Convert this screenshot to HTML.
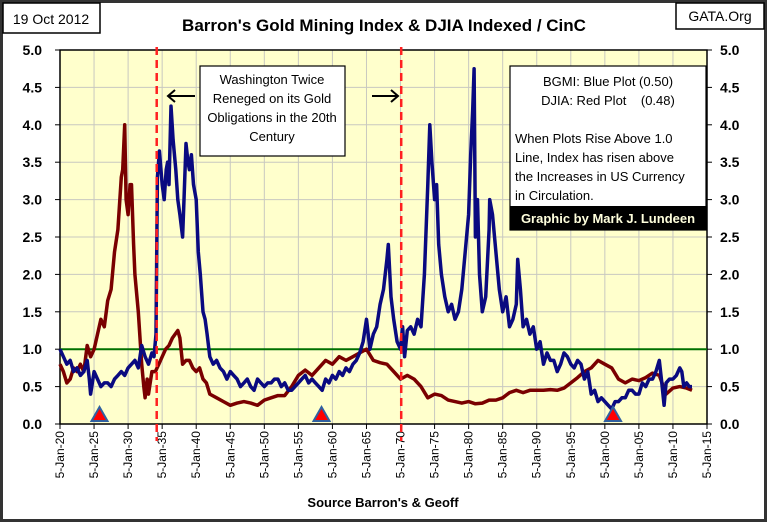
<!DOCTYPE html>
<html><head><meta charset="utf-8"><style>
body{margin:0;background:#fff;}
svg{display:block;font-family:"Liberation Sans",sans-serif;}
</style></head><body>
<svg id="c" width="768" height="523" viewBox="0 0 768 523">
<rect x="1.5" y="1.5" width="764" height="519" fill="#fff" stroke="#333" stroke-width="3"/>
<rect x="60" y="50" width="647" height="374" fill="#FFFFCC"/>
<g id="grid"></g>
<g id="axes"></g>
<g id="series"></g>
<rect x="3" y="3" width="97" height="30" fill="#fff" stroke="#000" stroke-width="1.5"/>
<text x="51" y="24" font-size="14" text-anchor="middle">19 Oct 2012</text>
<rect x="676" y="3" width="88" height="26" fill="#fff" stroke="#000" stroke-width="1.5"/>
<text x="720" y="21" font-size="14" text-anchor="middle">GATA.Org</text>
<text x="384" y="31" font-size="17" font-weight="bold" text-anchor="middle">Barron's Gold Mining Index &amp; DJIA Indexed / CinC</text>
<text x="383" y="507" font-size="13" font-weight="bold" text-anchor="middle">Source Barron's &amp; Geoff</text>
<rect x="200" y="66" width="145" height="90" fill="#fff" stroke="#000" stroke-width="1.2"/>
<g font-size="13" text-anchor="middle">
<text x="272" y="84">Washington Twice</text><text x="272" y="103">Reneged on its Gold</text><text x="272" y="122">Obligations in the 20th</text><text x="272" y="141">Century</text></g>
<g stroke="#000" stroke-width="2" fill="none">
<path d="M195 96 L168 96 M175 90 L168 96 L175 102"/><path d="M372 96 L398 96 M391 90 L398 96 L391 102"/></g>
<rect x="510" y="66" width="196" height="164" fill="#fff" stroke="#000" stroke-width="1.2"/>
<g font-size="13">
<text x="608" y="86" text-anchor="middle">BGMI: Blue Plot (0.50)</text>
<text x="608" y="105" text-anchor="middle">DJIA: Red Plot &#160;&#160;&#160;(0.48)</text>
<text x="515" y="143">When Plots Rise Above 1.0</text><text x="515" y="162">Line, Index has risen above</text><text x="515" y="181">the Increases in US Currency</text><text x="515" y="200">in Circulation.</text></g>
<rect x="510" y="206" width="196" height="24" fill="#000"/>
<text x="608" y="223" font-size="13" font-weight="bold" fill="#FFFFDD" text-anchor="middle">Graphic by Mark J. Lundeen</text>
</svg>
<script>
const blueYears=[1920,1920.5,1921,1921.5,1922,1922.5,1923,1923.5,1924,1924.3,1924.5,1925,1925.5,1926,1926.5,1927,1927.5,1928,1928.5,1929,1929.5,1930,1930.5,1931,1931.5,1932,1932.5,1933,1933.5,1933.8,1934.1,1934.3,1934.6,1935,1935.3,1935.6,1935.8,1936,1936.3,1936.6,1937,1937.3,1937.6,1938,1938.2,1938.5,1938.8,1939,1939.3,1939.6,1940,1940.3,1940.6,1941,1941.3,1941.6,1942,1942.5,1943,1943.5,1944,1944.5,1945,1945.5,1946,1946.5,1947,1947.5,1948,1948.5,1949,1949.5,1950,1950.5,1951,1951.5,1952,1952.5,1953,1953.5,1954,1954.5,1955,1955.5,1956,1956.5,1957,1957.5,1958,1958.5,1959,1959.5,1960,1960.5,1961,1961.5,1962,1962.5,1963,1963.5,1964,1964.5,1965,1965.5,1966,1966.5,1967,1967.5,1968,1968.2,1968.6,1969,1969.5,1970,1970.3,1970.6,1971,1971.5,1972,1972.5,1973,1973.5,1974,1974.3,1974.6,1975,1975.3,1975.6,1976,1976.5,1977,1977.5,1978,1978.5,1979,1979.5,1980,1980.3,1980.6,1980.8,1981,1981.3,1981.6,1982,1982.5,1983,1983.1,1983.5,1984,1984.5,1985,1985.5,1986,1986.5,1987,1987.2,1987.6,1988,1988.5,1989,1989.5,1990,1990.5,1991,1991.5,1992,1992.5,1993,1993.5,1994,1994.5,1995,1995.5,1996,1996.5,1997,1997.5,1998,1998.5,1999,1999.5,2000,2000.5,2001,2001.5,2002,2002.5,2003,2003.5,2004,2004.5,2005,2005.5,2006,2006.5,2007,2007.5,2008,2008.3,2008.7,2009,2009.5,2010,2010.5,2011,2011.3,2011.6,2012,2012.4,2012.8];
const blueValues=[1.0,0.9,0.8,0.85,0.7,0.75,0.65,0.7,0.85,0.6,0.4,0.7,0.6,0.5,0.55,0.55,0.5,0.6,0.65,0.7,0.65,0.75,0.8,0.85,0.75,1.05,0.9,0.8,0.95,0.9,1.2,3.3,3.65,3.2,3.0,3.4,3.5,3.2,4.25,3.8,3.4,3.0,2.8,2.5,3.0,3.75,3.5,3.4,3.6,3.2,3.0,2.3,2.0,1.5,1.4,1.2,0.9,0.8,0.85,0.75,0.7,0.6,0.7,0.65,0.6,0.5,0.55,0.6,0.5,0.45,0.6,0.55,0.5,0.55,0.55,0.6,0.6,0.5,0.55,0.45,0.45,0.5,0.55,0.6,0.65,0.55,0.6,0.55,0.5,0.45,0.6,0.55,0.65,0.6,0.7,0.65,0.75,0.7,0.8,0.85,0.95,1.1,1.4,1.0,1.2,1.3,1.6,1.8,2.2,2.4,1.7,1.4,1.1,1.0,1.3,0.9,1.25,1.3,1.2,1.4,1.3,2.0,3.2,4.0,3.5,3.0,3.2,2.4,2.0,1.7,1.5,1.6,1.4,1.5,1.8,2.3,2.8,3.6,4.2,4.75,2.5,3.0,2.0,1.5,1.7,2.6,3.0,2.8,2.3,1.8,1.5,1.7,1.3,1.4,1.6,2.2,1.8,1.3,1.4,1.2,1.3,1.0,1.1,0.8,0.95,0.85,0.85,0.7,0.8,0.95,0.9,0.8,0.75,0.85,0.8,0.6,0.7,0.4,0.45,0.3,0.35,0.3,0.25,0.2,0.3,0.3,0.35,0.35,0.45,0.45,0.4,0.4,0.55,0.5,0.6,0.6,0.7,0.85,0.6,0.25,0.55,0.6,0.6,0.65,0.75,0.7,0.5,0.55,0.5,0.5];
const redYears=[1920,1920.5,1921,1921.5,1922,1922.5,1923,1923.5,1924,1924.5,1925,1925.5,1926,1926.5,1927,1927.5,1928,1928.5,1929,1929.2,1929.5,1929.7,1930,1930.3,1930.5,1930.8,1931,1931.5,1932,1932.3,1932.5,1932.8,1933,1933.5,1934,1934.5,1935,1935.5,1936,1936.5,1937.3,1937.6,1938,1938.5,1939,1939.5,1940,1940.5,1941,1941.5,1942,1943,1944,1945,1946,1947,1948,1949,1950,1951,1952,1953,1954,1955,1956,1957,1958,1959,1960,1961,1962,1963,1964,1965,1966,1967,1968,1969,1970,1971,1972,1973,1974,1975,1976,1977,1978,1979,1980,1981,1982,1983,1984,1985,1986,1987,1988,1989,1990,1991,1992,1993,1994,1995,1996,1997,1998,1999,2000,2001,2002,2003,2004,2005,2006,2007,2008,2009,2010,2011,2012,2012.8];
const redValues=[0.8,0.7,0.55,0.6,0.75,0.7,0.8,0.7,1.05,0.9,1.0,1.2,1.4,1.3,1.65,1.8,2.3,2.6,3.3,3.4,4.0,3.0,2.8,3.2,3.2,2.4,2.0,1.5,0.8,0.5,0.35,0.6,0.4,0.7,0.7,0.8,0.9,1.0,1.05,1.15,1.25,1.15,0.8,0.85,0.85,0.75,0.7,0.75,0.6,0.55,0.4,0.35,0.3,0.25,0.28,0.3,0.28,0.25,0.32,0.35,0.38,0.38,0.5,0.65,0.72,0.65,0.75,0.85,0.8,0.9,0.85,0.9,0.95,1.0,0.85,0.82,0.8,0.7,0.6,0.65,0.6,0.5,0.35,0.4,0.38,0.32,0.3,0.28,0.3,0.27,0.28,0.32,0.32,0.35,0.42,0.45,0.42,0.45,0.45,0.45,0.46,0.45,0.48,0.55,0.62,0.7,0.75,0.85,0.8,0.75,0.6,0.55,0.6,0.58,0.62,0.68,0.65,0.4,0.48,0.5,0.48,0.45];
const xTickYears=[1920,1925,1930,1935,1940,1945,1950,1955,1960,1965,1970,1975,1980,1985,1990,1995,2000,2005,2010,2015];
const yTicks=[0,0.5,1,1.5,2,2.5,3,3.5,4,4.5,5];
const eventYears=[1934.2,1970.1];
const triangleYears=[1925.8,1958.4,2001.2];
const NS='http://www.w3.org/2000/svg';
const X0=60,X1=707,Y0=424,Y1=50;
const xs=y=>X0+(y-1920)/95*(X1-X0);
const ys=v=>Y0-v/5*(Y0-Y1);
function mk(t,a,p){const e=document.createElementNS(NS,t);for(const k in a)e.setAttribute(k,a[k]);p.appendChild(e);return e;}
const grid=document.getElementById('grid'),axes=document.getElementById('axes'),ser=document.getElementById('series');
xTickYears.forEach(yr=>{
 const l=mk('line',{x1:xs(yr),x2:xs(yr),y1:Y1,y2:Y0,stroke:'#c8c8c0','stroke-width':1},grid);
 
 
 const tk=mk('line',{x1:xs(yr),x2:xs(yr),y1:Y0,y2:Y0+5,stroke:'#000'},axes);
 
 
 const t=mk('text',{x:0,y:0,'font-size':12,'text-anchor':'end',transform:`translate(${xs(yr)+4},${Y0+7}) rotate(-90)`},axes);
 t.textContent='5-Jan-'+String(yr%100).padStart(2,'0');
 
 
});
yTicks.forEach(v=>{
 const l=mk('line',{x1:X0,x2:X1,y1:ys(v),y2:ys(v),stroke:'#c8c8c0','stroke-width':1},grid);
 
 
 const tl=mk('line',{x1:X0-5,x2:X0,y1:ys(v),y2:ys(v),stroke:'#000'},axes);
 
 
 const tr=mk('line',{x1:X1,x2:X1+5,y1:ys(v),y2:ys(v),stroke:'#000'},axes);
 
 
 const a=mk('text',{x:X0-18,y:ys(v)+5,'font-size':14,'font-weight':'bold','text-anchor':'end'},axes);
 a.textContent=v.toFixed(1);
 
 
 const b=mk('text',{x:X1+13,y:ys(v)+5,'font-size':14,'font-weight':'bold'},axes);
 b.textContent=v.toFixed(1);
 
 
});
const fr=mk('rect',{x:X0,y:Y1,width:X1-X0,height:Y0-Y1,fill:'none',stroke:'#000','stroke-width':1.5},axes);


const g1=mk('line',{x1:X0,x2:X1,y1:ys(1),y2:ys(1),stroke:'#007000','stroke-width':2},ser);


function path(xa,va,c,n){
 const d=xa.map((y,i)=>(i?'L':'M')+xs(y).toFixed(1)+' '+ys(va[i]).toFixed(1)).join(' ');
 const p=mk('path',{d:d,fill:'none',stroke:c,'stroke-width':3.5,'stroke-linejoin':'round'},ser);
 
 
}
path(redYears,redValues,'#7a0000','djia-series');
path(blueYears,blueValues,'#0a0a80','bgmi-series');
eventYears.forEach(yr=>{
 const l=mk('line',{x1:xs(yr),x2:xs(yr),y1:Y1-3,y2:Y0+17,stroke:'#ff2020','stroke-width':2.5,'stroke-dasharray':'8,5'},ser);
 
 
});
triangleYears.forEach(yr=>{
 const x=xs(yr);
 const t=mk('polygon',{points:`${x},${Y0-17} ${x-8},${Y0-3} ${x+8},${Y0-3}`,fill:'#ff0000',stroke:'#3060a0','stroke-width':2},ser);
 
 
});
</script>
</body></html>
